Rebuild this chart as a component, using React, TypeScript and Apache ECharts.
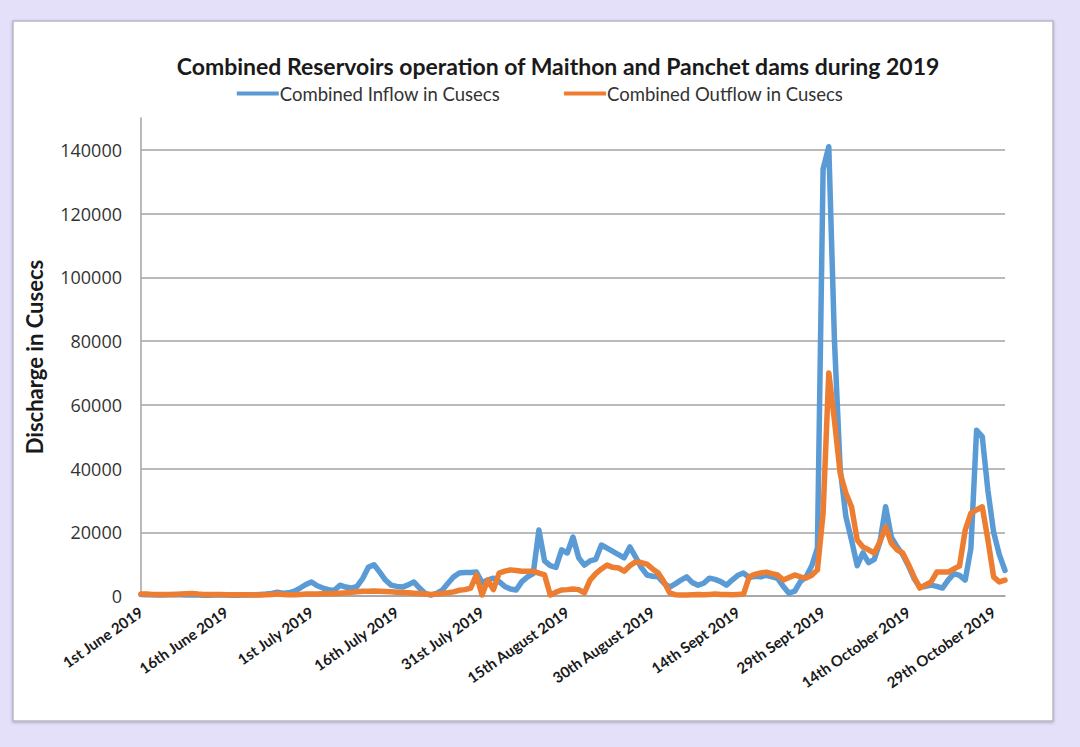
import React, { useEffect, useRef } from "react";
import * as echarts from "echarts";

// Daily combined inflow (cusecs), 1 June – 31 October 2019
const inflow = [
  500, 400, 400, 300, 300, 400, 500, 400, 300, 300,
  300, 200, 200, 300, 300, 300, 200, 200, 300, 300,
  400, 500, 600, 800, 1200, 900, 1000, 1500, 2500, 3600,
  4400, 3200, 2500, 2000, 1700, 3400, 2800, 2500, 3000, 5500,
  9000, 9800, 7500, 5000, 3400, 3000, 2800, 3500, 4400, 2500,
  800, 300, 800, 1800, 4000, 6000, 7200, 7400, 7400, 7500,
  4200, 5000, 5600, 4500, 3000, 2200, 1900, 4500, 6000, 7000,
  20700, 11000, 9500, 9000, 14500, 13500, 18500, 12000, 9700, 11000,
  11500, 16000, 15000, 14000, 13000, 12000, 15400, 12300, 9000, 6600,
  6200, 6000, 4000, 2800, 3800, 5000, 6000, 4200, 3400, 4000,
  5600, 5200, 4500, 3400, 5000, 6500, 7200, 5800, 6200, 6000,
  6500, 6000, 5500, 3000, 900, 1500, 4500, 6000, 9500, 15000,
  134000, 141000, 80000, 40000, 25000, 17500, 9500, 13500, 10500, 11500,
  17000, 28000, 18500, 15500, 13000, 9500, 5500, 2800, 3000, 3400,
  3000, 2500, 5000, 7000, 6500, 5000, 15000, 52000, 50000, 33000,
  20000, 13000, 8000,
];

// Daily combined outflow (cusecs), same days
const outflow = [
  600, 600, 500, 500, 500, 500, 500, 600, 700, 800,
  600, 500, 500, 500, 500, 400, 400, 400, 400, 400,
  300, 300, 400, 500, 700, 500, 400, 400, 500, 600,
  600, 600, 700, 700, 800, 900, 1000, 1200, 1300, 1500,
  1500, 1600, 1500, 1400, 1300, 1200, 1100, 1000, 900, 800,
  600, 500, 600, 800, 1000, 1300, 1800, 2000, 2500, 6600,
  300, 5000, 2000, 7200, 7800, 8200, 8000, 7800, 7800, 7800,
  7200, 6600, 300, 1200, 1900, 2000, 2200, 2000, 1000, 5000,
  7000, 8500, 9700, 9000, 8800, 7800, 9500, 10700, 10500, 10000,
  8500, 7200, 4500, 1000, 400, 300, 300, 400, 500, 400,
  500, 600, 500, 500, 400, 500, 600, 6000, 6800, 7200,
  7500, 7000, 6600, 5000, 5800, 6600, 6000, 5600, 6500, 8200,
  26000, 70000, 55000, 38500, 32300, 28000, 17600, 15400, 14500, 13500,
  17000, 21700, 16600, 14500, 13500, 10000, 6000, 2500, 3500, 4400,
  7500, 7500, 7500, 8500, 9400, 20700, 26000, 27000, 28000, 17600,
  6000, 4400, 5000,
];

// Labels shown every 15th day along the date axis
const tickLabels = [
  "1st June 2019",
  "16th June 2019",
  "1st July 2019",
  "16th July 2019",
  "31st July 2019",
  "15th August 2019",
  "30th August 2019",
  "14th Sept 2019",
  "29th Sept 2019",
  "14th October 2019",
  "29th October 2019",
];

const seriesNames = ["Combined Inflow in Cusecs", "Combined Outflow in Cusecs"];

// One category per day from 1 June 2019
const days: string[] = [];
{
  const start = Date.UTC(2019, 5, 1);
  for (let i = 0; i < inflow.length; i++) {
    const d = new Date(start + i * 86400000);
    days.push(d.toISOString().slice(0, 10));
  }
}

const FONT = "Lato, 'Open Sans', sans-serif";
const NUM_FONT = "'Open Sans', Lato, sans-serif";
const GRID_GRAY = "#a3a3a3";

export default function App() {
  const ref = useRef<HTMLDivElement>(null);

  useEffect(() => {
    if (!ref.current) return;
    const chart = echarts.init(ref.current, undefined, { renderer: "svg" });
    chart.setOption({
      animation: false,
      backgroundColor: "#e4e0fa",
      graphic: [
        {
          type: "rect",
          z: -10,
          shape: { x: 13, y: 21, width: 1040, height: 700 },
          style: {
            fill: "#ffffff",
            stroke: "#b9b7c6",
            lineWidth: 1.5,
            shadowBlur: 3,
            shadowColor: "rgba(0,0,0,0.25)",
            shadowOffsetY: 1,
          },
        },
      ],
      title: {
        text: "Combined Reservoirs operation of Maithon and Panchet dams during 2019",
        left: 553,
        top: 49,
        textAlign: "center",
        textStyle: {
          fontFamily: FONT,
          fontWeight: "bold",
          fontSize: 23,
          color: "#1a1a1a",
        },
      },
      legend: {
        data: seriesNames,
        left: "center",
        top: 79,
        icon: "rect",
        itemWidth: 42,
        itemHeight: 4,
        itemGap: 64,
        textStyle: {
          fontFamily: FONT,
          fontSize: 18.5,
          color: "#333333",
          padding: [0, 0, 0, -4],
        },
      },
      grid: {
        left: 141,
        right: 75,
        top: 118,
        bottom: 151,
        containLabel: false,
      },
      xAxis: {
        type: "category",
        data: days,
        boundaryGap: false,
        axisLine: { show: true, lineStyle: { color: GRID_GRAY, width: 1.5 } },
        axisTick: { show: false },
        splitLine: { show: false },
        axisLabel: {
          interval: 14,
          rotate: 35,
          margin: 14,
          fontFamily: FONT,
          fontWeight: "bold",
          fontSize: 15,
          color: "#1a1a1a",
          formatter: (_v: string, i: number) =>
            i % 15 === 0 ? tickLabels[i / 15] ?? "" : "",
        },
      },
      yAxis: {
        type: "value",
        min: 0,
        max: 150000,
        interval: 20000,
        name: "Discharge in Cusecs",
        nameLocation: "middle",
        nameRotate: 90,
        nameGap: 96,
        nameTextStyle: {
          fontFamily: FONT,
          fontWeight: "bold",
          fontSize: 22,
          color: "#1a1a1a",
        },
        axisLine: { show: true, lineStyle: { color: GRID_GRAY, width: 1.5 } },
        axisTick: { show: false },
        axisLabel: {
          showMaxLabel: false,
          margin: 19,
          fontFamily: NUM_FONT,
          fontSize: 18,
          color: "#333333",
          formatter: (v: number) => String(v),
        },
        splitLine: {
          show: true,
          showMaxLine: false,
          lineStyle: { color: GRID_GRAY, width: 1.5 },
        },
      },
      series: [
        {
          name: seriesNames[0],
          type: "line",
          data: inflow,
          symbol: "none",
          color: "#5b9bd5",
          lineStyle: { width: 5.5, cap: "round", join: "round" },
        },
        {
          name: seriesNames[1],
          type: "line",
          data: outflow,
          symbol: "none",
          color: "#ed7d31",
          lineStyle: { width: 5.5, cap: "round", join: "round" },
        },
      ],
    });
    return () => chart.dispose();
  }, []);

  return (
    <div
      style={{
        position: "fixed",
        left: 0,
        top: 0,
        width: 1080,
        height: 747,
        background: "#e4e0fa",
      }}
    >
      <div ref={ref} style={{ width: 1080, height: 747 }} />
    </div>
  );
}
